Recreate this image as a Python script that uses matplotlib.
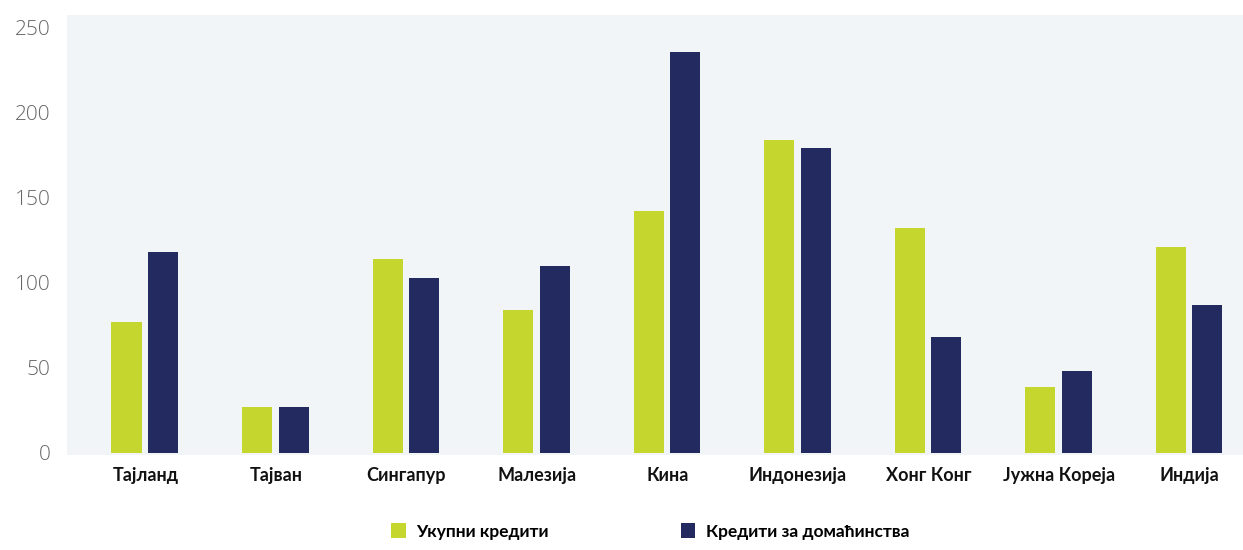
import numpy as np
import matplotlib
matplotlib.use('Agg')
from matplotlib import pyplot as plt
from matplotlib.patches import Patch

# податке очитане са графикона
countries = ['Тајланд', 'Тајван', 'Сингапур', 'Малезија', 'Кина',
             'Индонезија', 'Хонг Конг', 'Јужна Кореја', 'Индија']
total_loans = [77, 27, 114, 84, 142, 184, 132, 39, 121]
household_loans = [118, 27, 103, 110, 236, 179, 68, 48, 87]
y_ticks = [0, 50, 100, 150, 200, 250]
legend_labels = ['Укупни кредити', 'Кредити за домаћинства']

green = '#c5d62e'
navy = '#222a5f'

fig = plt.figure(figsize=(12.43, 5.5), dpi=100)
ax = fig.add_axes([0.054, 0.173, 0.946, 0.8])
ax.set_facecolor('#f2f5f7')

x = np.arange(len(countries))
w = 0.23
ax.bar(x - 0.145, total_loans, width=w, color=green)
ax.bar(x + 0.135, household_loans, width=w, color=navy)

ax.set_xlim(-0.6, 8.41)
ax.set_ylim(-1.2, 257.6)
ax.set_yticks(y_ticks)
ax.set_xticks(x)
ax.set_xticklabels(countries, fontfamily='Lato', fontweight='bold', fontsize=13, color='#111111')
for lbl in ax.get_yticklabels():
    lbl.set_fontfamily('Open Sans')
    lbl.set_fontweight('light')
    lbl.set_fontsize(15)
    lbl.set_color('#666666')
ax.tick_params(axis='y', length=0, pad=12)
ax.tick_params(axis='x', length=0, pad=9)
for s in ax.spines.values():
    s.set_visible(False)

handles = [Patch(facecolor=green), Patch(facecolor=navy)]
leg = fig.legend(handles, legend_labels, loc='lower left', bbox_to_anchor=(0.302, -0.01),
                 ncol=2, frameon=False, handlelength=0.85, handleheight=0.95,
                 handletextpad=0.6, columnspacing=7.6,
                 prop={'family': 'Lato', 'weight': 'bold', 'size': 12.5})

fig.savefig('out.png', dpi=100)
